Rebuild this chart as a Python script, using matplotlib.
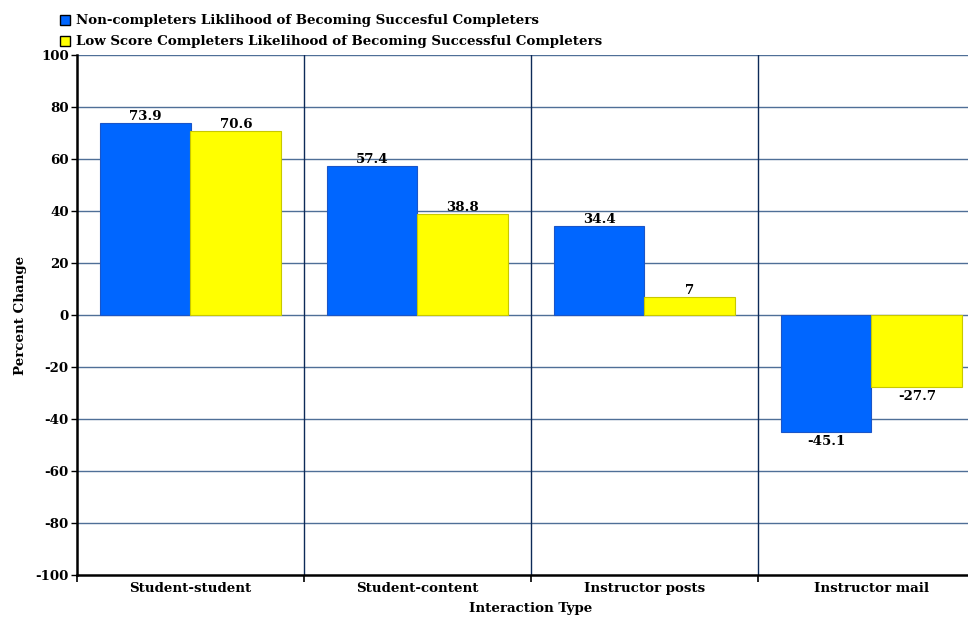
import matplotlib.pyplot as plt
from matplotlib.patches import Patch
import numpy as np

categorias = ["Student-student", "Student-content", "Instructor posts", "Instructor mail"]
nao_concluintes = [73.9, 57.4, 34.4, -45.1]
nota_baixa = [70.6, 38.8, 7, -27.7]
rotulos_nc = ["73.9", "57.4", "34.4", "-45.1"]
rotulos_nb = ["70.6", "38.8", "7", "-27.7"]
legenda = ["Non-completers Liklihood of Becoming Succesful Completers",
           "Low Score Completers Likelihood of Becoming Successful Completers"]

plt.rcParams['font.family'] = ['DejaVu Serif']
plt.rcParams['font.weight'] = 'bold'
plt.rcParams['axes.unicode_minus'] = False

azul = '#0066ff'
amarelo = '#ffff00'
grade_h = '#4f6f97'
grade_v = '#0d2a58'
fs = 9.6

fig = plt.figure(figsize=(9.68, 6.21), dpi=100)
ax = fig.add_axes([77/968, 1-575/621, 908/968, 520/621])

x = np.arange(len(categorias)) + 0.5
w = 0.4
ax.bar(x - w/2, nao_concluintes, w, color=azul, edgecolor='#1a55c8', linewidth=0.8, zorder=3)
ax.bar(x + w/2, nota_baixa, w, color=amarelo, edgecolor='#c8c800', linewidth=0.8, zorder=3)

for xi, v, r in zip(x - w/2, nao_concluintes, rotulos_nc):
    ax.annotate(r, (xi, v), xytext=(0, 0 if v >= 0 else -2), textcoords='offset points',
                ha='center', va='bottom' if v >= 0 else 'top', fontsize=fs, fontweight='bold')
for xi, v, r in zip(x + w/2, nota_baixa, rotulos_nb):
    ax.annotate(r, (xi, v), xytext=(0, 0 if v >= 0 else -2), textcoords='offset points',
                ha='center', va='bottom' if v >= 0 else 'top', fontsize=fs, fontweight='bold')

ax.set_xlim(0, 4)
ax.set_ylim(-100, 100)
ax.set_yticks(np.arange(-100, 101, 20))
ax.set_xticks([0, 1, 2, 3, 4])
ax.set_xticklabels([])
ax.set_xticks(x, minor=True)
ax.set_xticklabels(categorias, minor=True)
ax.tick_params(axis='x', which='minor', length=0, pad=5, labelsize=fs)
ax.tick_params(axis='x', which='major', length=5, width=1.2, direction='out')
ax.tick_params(axis='y', length=4, width=1, labelsize=fs, pad=2)

for yv in np.arange(-80, 101, 20):
    ax.axhline(yv, color=grade_h, linewidth=1.0, zorder=1)
for xv in [1, 2, 3]:
    ax.axvline(xv, color=grade_v, linewidth=1.0, zorder=1)

ax.spines['top'].set_visible(False)
ax.spines['right'].set_visible(False)
ax.spines['left'].set_linewidth(1.8)
ax.spines['bottom'].set_linewidth(1.8)

ax.set_xlabel("Interaction Type", fontsize=fs, fontweight='bold', labelpad=5)
ax.set_ylabel("Percent Change", fontsize=fs, fontweight='bold', labelpad=6)

handles = [Patch(facecolor=azul, edgecolor='black'), Patch(facecolor=amarelo, edgecolor='black')]
fig.legend(handles, legenda, loc='upper left', bbox_to_anchor=(0.052, 0.992), frameon=False,
           handlelength=0.8, handleheight=0.8, handletextpad=0.4, labelspacing=0.6,
           borderaxespad=0.3, prop={'size': fs, 'weight': 'bold'})

fig.savefig('out.png', dpi=100)
